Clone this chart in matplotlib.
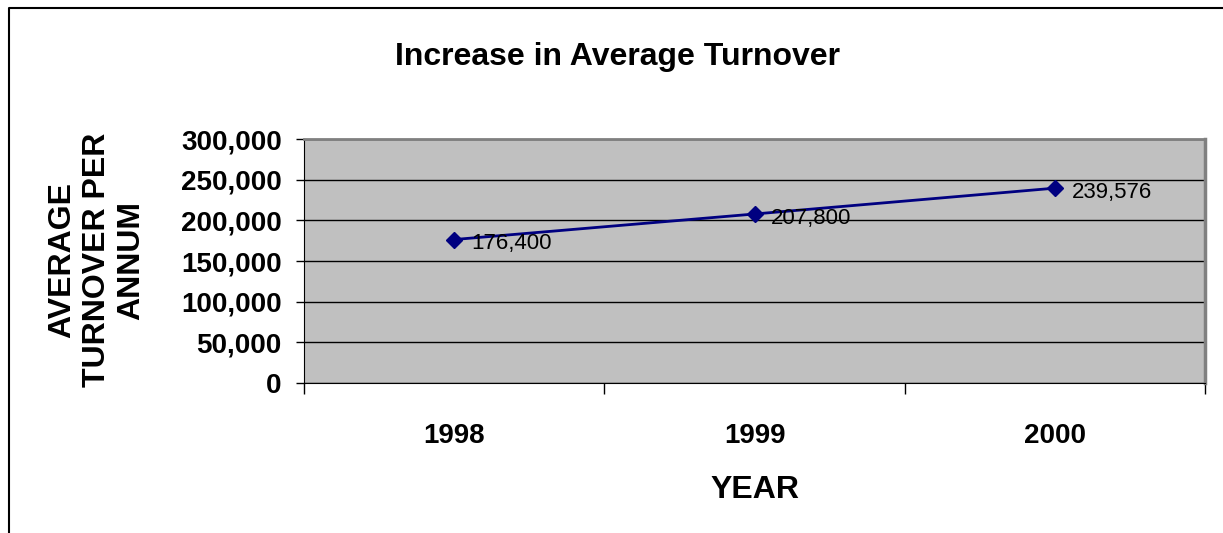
import matplotlib
matplotlib.use("Agg")
from matplotlib import pyplot as plt
from matplotlib.lines import Line2D
from matplotlib.ticker import FuncFormatter, FixedLocator

years = ["1998", "1999", "2000"]
turnover = [176400, 207800, 239576]
y_ticks = [0, 50000, 100000, 150000, 200000, 250000, 300000]

plt.rcParams["font.family"] = ["Liberation Sans", "DejaVu Sans"]

fig = plt.figure(figsize=(12.23, 5.33), dpi=100)
ax = fig.add_axes([0.2486, 0.2814, 0.7367, 0.4578])
ax.set_facecolor("#C0C0C0")

x = list(range(len(years)))
ax.plot(x, turnover, color="#000080", linewidth=2, marker="D", markersize=8,
        zorder=3)
for xi, v in zip(x, turnover):
    ax.annotate(f"{v:,}", (xi, v), xytext=(12, -3), textcoords="offset points",
                ha="left", va="center", fontsize=16, color="black", zorder=4)

ax.set_xlim(-0.5, len(years) - 0.5)
ax.set_ylim(0, 300000)
ax.set_yticks(y_ticks)
ax.yaxis.set_major_formatter(FuncFormatter(lambda v, p: f"{int(v):,}"))
ax.tick_params(axis="y", direction="out", length=6, width=1, pad=10,
               labelsize=20)
for lab in ax.get_yticklabels():
    lab.set_fontweight("bold")

# category boundaries as major ticks, names on minor ticks
ax.xaxis.set_major_locator(FixedLocator([i - 0.5 for i in range(len(years) + 1)]))
ax.xaxis.set_major_formatter(FuncFormatter(lambda v, p: ""))
ax.xaxis.set_minor_locator(FixedLocator(x))
ax.set_xticklabels(years, minor=True)
ax.tick_params(axis="x", which="major", direction="out", length=8, width=1)
ax.tick_params(axis="x", which="minor", length=0, pad=29, labelsize=20)
for lab in ax.get_xticklabels(minor=True):
    lab.set_fontweight("bold")

ax.yaxis.grid(True, color="black", linewidth=1)
ax.set_axisbelow(True)
ax.spines["top"].set_color("#808080")
ax.spines["right"].set_color("#808080")
ax.spines["top"].set_linewidth(2)
ax.spines["right"].set_linewidth(2.5)
ax.spines["left"].set_color("black")
ax.spines["bottom"].set_color("black")

fig.text(618 / 1223, 1 - 57 / 533, "Increase in Average Turnover",
         ha="center", va="center", fontsize=23, fontweight="bold")
fig.text(755 / 1223, 1 - 490 / 533, "YEAR", ha="center", va="center",
         fontsize=23, fontweight="bold")
fig.text(97 / 1223, 1 - 260 / 533, "AVERAGE\nTURNOVER PER\nANNUM",
         ha="center", va="center", rotation=90, multialignment="center",
         fontsize=23, fontweight="bold", linespacing=1.2)

# outer frame (left and top edges)
fig.add_artist(Line2D([9 / 1223, 9 / 1223, 1.0], [0.0, 1 - 8 / 533, 1 - 8 / 533],
                      transform=fig.transFigure, color="black", linewidth=1.5))

fig.savefig("out.png", dpi=100)
